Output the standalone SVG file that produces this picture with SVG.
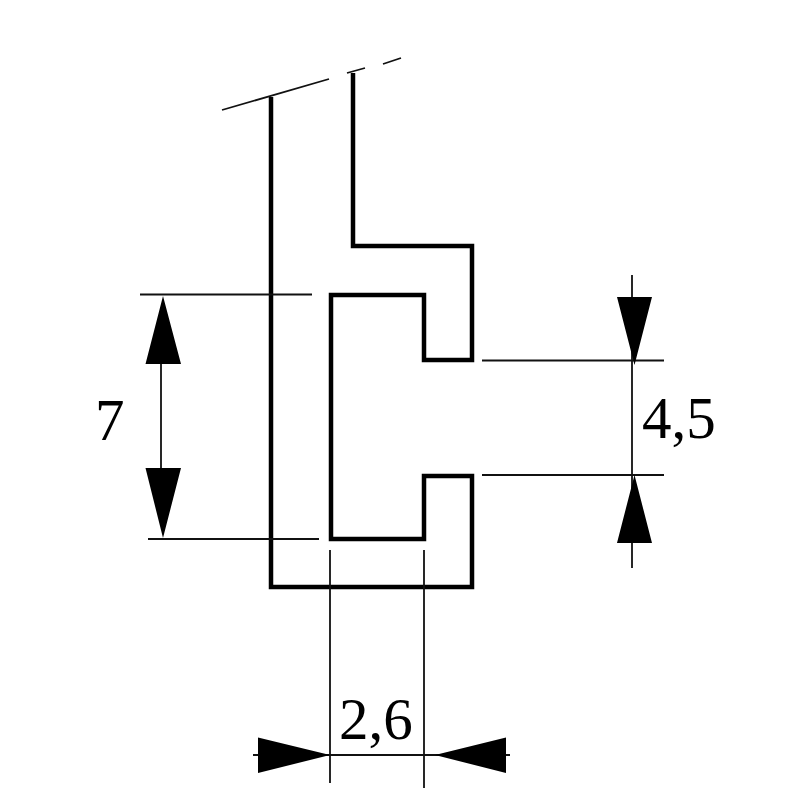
<svg xmlns="http://www.w3.org/2000/svg" width="800" height="800" viewBox="0 0 800 800">
<style>
.p{fill:none;stroke:#000;stroke-width:4.5;stroke-linejoin:miter}
.t{fill:none;stroke:#111;stroke-width:1.8}
.a{fill:#000;stroke:none}
text{font-family:"Liberation Serif","Times New Roman",serif;font-size:59px;fill:#000}
</style>
<rect width="800" height="800" fill="#fff"/>
<g id="profile">
<path class="p" d="M271 97V587H472V476H424V539H331V295H424V360H472V246H353V73"/>
</g>
<g id="break-line">
<path class="t" d="M222 110L329 79M347 73L365 68M383 64L401 58"/>
</g>
<g id="connectors">
<path class="t" d="M140 294.500H312M148 539H319M161 340V495M482 360.500H664M482 475H664M632 275V568M330 550V783M424 550V788M253 755H510"/>
<path class="a" d="M163 296L181 364H145.500ZM163 538L145.500 468H181ZM634.500 365L617 297H652ZM634.500 475L652 543H617ZM330 755L258 737.500V773ZM435 755L506 737.500V773Z"/>
</g>
<g id="labels">
<text x="95" y="440">7</text>
<text x="642" y="438">4,5</text>
<text x="339" y="739">2,6</text>
</g>
</svg>
